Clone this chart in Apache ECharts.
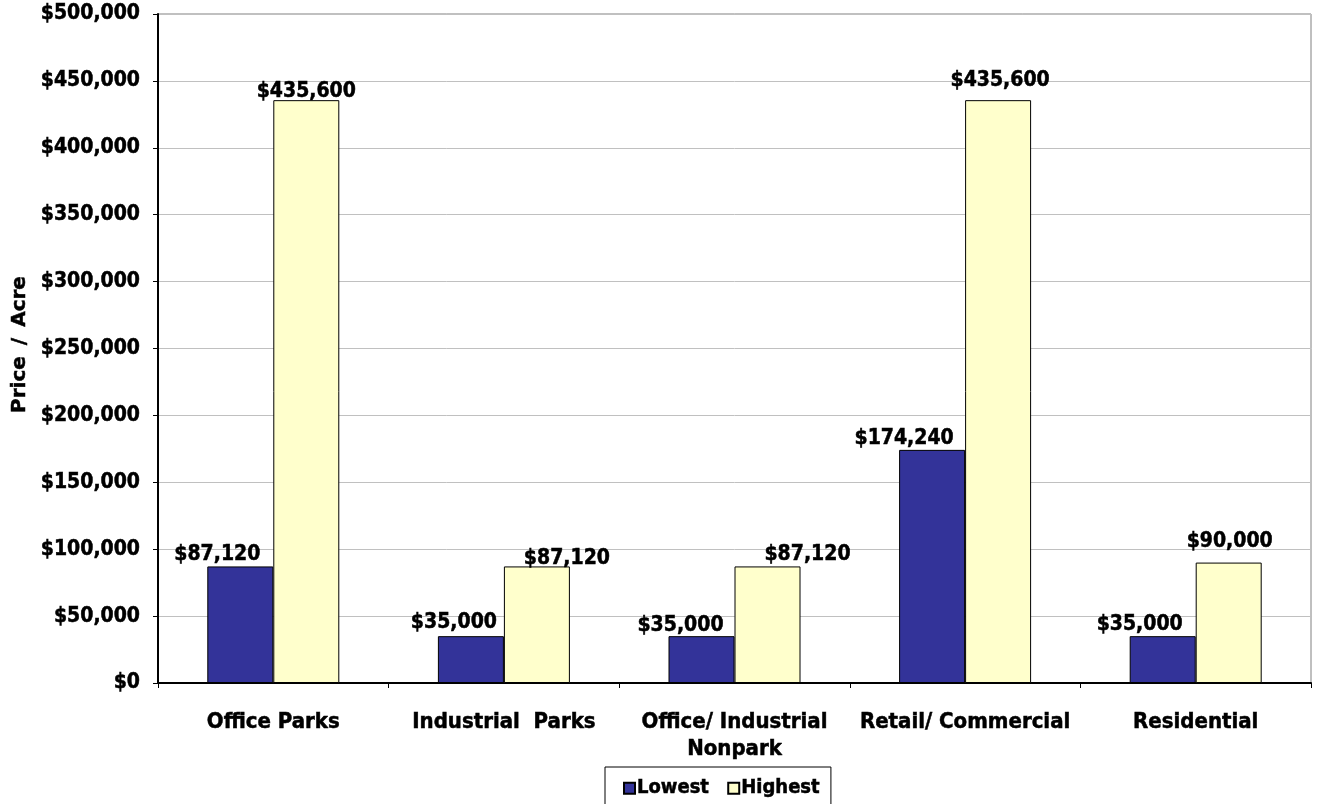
<!DOCTYPE html>
<html>
<head>
<meta charset="utf-8">
<script src="https://cdn.jsdelivr.net/npm/echarts@6/dist/echarts.min.js"></script>
<style>
html,body{margin:0;padding:0;background:#fff;}
#chart{width:1317px;height:804px;}
</style>
</head>
<body>
<div id="chart"></div>
<script>
const categories = ['Office Parks', 'Industrial  Parks', 'Office/ Industrial\nNonpark', 'Retail/ Commercial', 'Residential'];
const lowest = [87120, 35000, 35000, 174240, 35000];
const highest = [435600, 87120, 87120, 435600, 90000];
const yTicks = { min: 0, max: 500000, interval: 50000 };
const seriesNames = ['Lowest', 'Highest'];

// label nudges (style only, not data)
const lowNudge = [[-23, -1], [-17, -3], [-21, 0], [-28, -1], [-23, -1]];
const highNudge = [[0, 2], [30, 3], [40, -1], [2, -9], [1, -11]];

const FONT = '"DejaVu Sans Condensed", "DejaVu Sans", sans-serif';
const THICK = { textBorderColor: '#000', textBorderWidth: 0.5 };

function fmt(v) {
  return '$' + v.toString().replace(/\B(?=(\d{3})+(?!\d))/g, ',');
}

function build(values, nudges) {
  return values.map((v, i) => ({
    value: v,
    label: { offset: nudges[i] }
  }));
}

const chart = echarts.init(document.getElementById('chart'), null, { renderer: 'canvas' });
chart.setOption({
  backgroundColor: '#ffffff',
  animation: false,
  textStyle: { fontFamily: FONT, fontWeight: 'bold', color: '#000' },
  grid: {
    left: 158, right: 6, top: 14, bottom: 121,
    containLabel: false, outerBoundsMode: 'none',
    show: true, borderColor: '#808080', borderWidth: 1, backgroundColor: 'transparent'
  },
  legend: {
    data: seriesNames,
    left: 605, top: 767,
    padding: [11, 11, 16, 18],
    icon: 'rect',
    itemWidth: 11, itemHeight: 11, itemGap: 18,
    borderColor: '#000', borderWidth: 1,
    textStyle: Object.assign({ fontFamily: FONT, fontWeight: 'bold', fontSize: 20, color: '#000', padding: [2, 0, 0, -3] }, THICK)
  },
  xAxis: {
    type: 'category',
    data: categories,
    axisLine: { lineStyle: { color: '#000', width: 2 } },
    axisTick: { show: true, length: 5, alignWithLabel: false, lineStyle: { color: '#000', width: 1 } },
    axisLabel: Object.assign({ fontFamily: FONT, fontWeight: 'bold', fontSize: 22, color: '#000', margin: 26, lineHeight: 27, interval: 0 }, THICK),
    splitLine: { show: false }
  },
  yAxis: {
    type: 'value',
    min: yTicks.min, max: yTicks.max, interval: yTicks.interval,
    name: '{a|Price}{s|/}{a|Acre}',
    nameLocation: 'middle',
    nameGap: 128,
    nameTextStyle: {
      padding: [0, 0, 0, 8],
      rich: {
        a: Object.assign({ fontFamily: '"DejaVu Sans", sans-serif', fontWeight: 'bold', fontSize: 20, color: '#000' }, THICK),
        s: Object.assign({ fontFamily: '"DejaVu Sans", sans-serif', fontWeight: 'bold', fontSize: 20, color: '#000', padding: [0, 11, 0, 11] }, THICK)
      }
    },
    axisLine: { show: true, lineStyle: { color: '#000', width: 2 } },
    axisTick: { show: true, length: 5, lineStyle: { color: '#000', width: 1 } },
    axisLabel: Object.assign({ fontFamily: FONT, fontWeight: 'bold', fontSize: 21, color: '#000', margin: 18, formatter: fmt }, THICK),
    splitLine: { show: true, lineStyle: { color: '#c0c0c0', width: 1 } }
  },
  series: [
    {
      name: seriesNames[0], type: 'bar', barWidth: 66, barGap: '0%',
      data: build(lowest, lowNudge),
      itemStyle: { color: '#333399', borderColor: '#000', borderWidth: 1 },
      label: Object.assign({ show: true, position: 'top', distance: 0, formatter: p => fmt(p.value),
               fontFamily: FONT, fontWeight: 'bold', fontSize: 21, color: '#000' }, THICK)
    },
    {
      name: seriesNames[1], type: 'bar', barWidth: 66, barGap: '0%',
      data: build(highest, highNudge),
      itemStyle: { color: '#FFFFCC', borderColor: '#000', borderWidth: 1 },
      label: Object.assign({ show: true, position: 'top', distance: 0, formatter: p => fmt(p.value),
               fontFamily: FONT, fontWeight: 'bold', fontSize: 21, color: '#000' }, THICK)
    }
  ]
});
</script>
</body>
</html>
